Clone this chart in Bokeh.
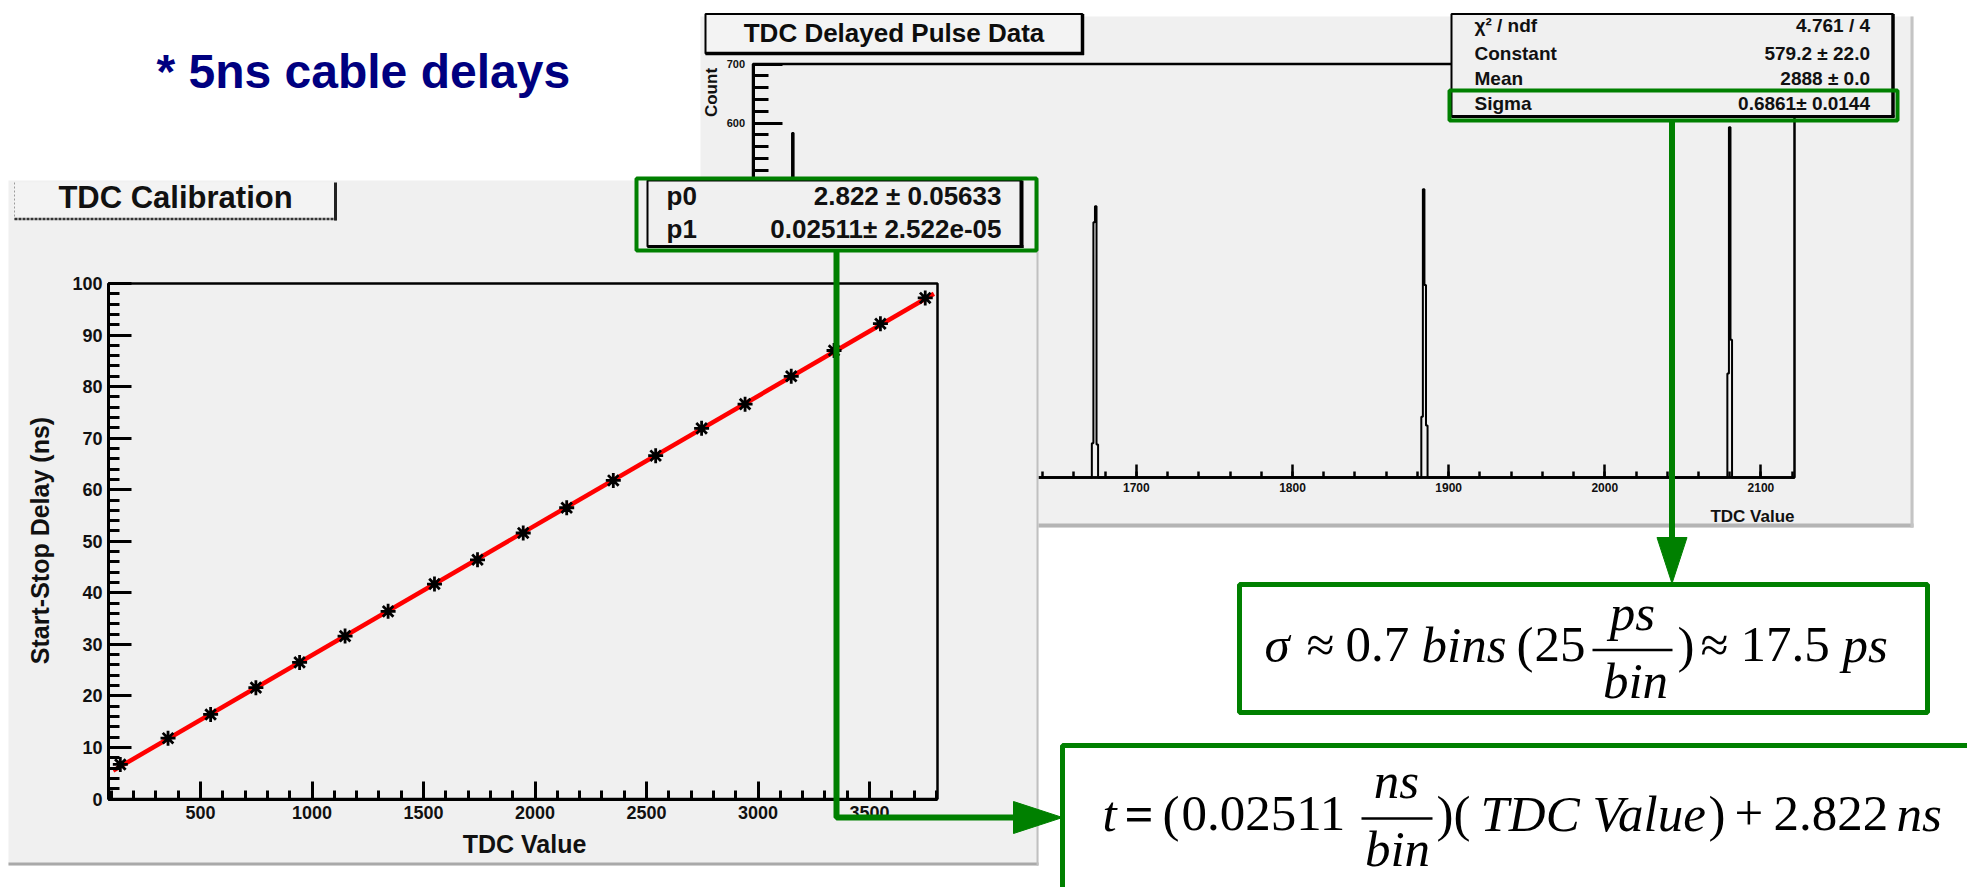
import numpy as np
from bokeh.plotting import figure
from bokeh.models import Range1d, LinearAxis, FixedTicker, ColumnDataSource
from bokeh.core.properties import value
from bokeh.embed import file_html
from bokeh.resources import INLINE

W, H = 1967, 887

# ---------------- data ----------------
# TDC calibration graph (5 ns cable delays)
cal_tdc = [140, 354, 545, 748, 944, 1148, 1341, 1549, 1742, 1947,
           2142, 2351, 2541, 2747, 2942, 3149, 3341, 3549, 3750]
cal_delay = [6.7, 11.8, 16.4, 21.6, 26.5, 31.6, 36.4, 41.7, 46.4, 51.6,
             56.5, 61.8, 66.6, 71.9, 76.6, 82.0, 87.0, 92.2, 97.2]
fit_tdc = [108, 3789]
fit_delay = [5.5, 98.0]
cal_x_span = (87.0, 3805.0)
cal_y_span = (0.0, 100.0)
cal_x_ticks = [500, 1000, 1500, 2000, 2500, 3000, 3500]
cal_x_minor = list(range(100, 3801, 100))
cal_y_ticks = list(range(0, 101, 10))
cal_y_minor = list(range(0, 101, 2))
cal_fit_pars = [("p0", "2.822 ± 0.05633"), ("p1", "0.02511± 2.522e-05")]

# TDC delayed pulse histogram (non-empty bins)
hist_bins = [1479, 1480, 1481,
             1672, 1673, 1674, 1675,
             1883, 1884, 1885, 1886,
             2079, 2080, 2081]
hist_counts = [190, 583, 230,
               58, 432, 459, 56,
               103, 488, 326, 88,
               176, 593, 233]
hist_x_span = (1454.5, 2121.5)
hist_y_span = (0.0, 700.0)
hist_x_ticks = [1500, 1600, 1700, 1800, 1900, 2000, 2100]
hist_x_minor = list(range(1460, 2121, 20))
hist_y_ticks = list(range(0, 701, 100))
hist_y_minor = list(range(0, 701, 20))
hist_stats = [("χ² / ndf", "4.761 / 4"), ("Constant", "579.2 ± 22.0"),
              ("Mean", "2888 ± 0.0"), ("Sigma", "0.6861± 0.0144")]

# ---------------- layout (pixel boxes: left, top, right, bottom) ----------------
CAL_PANEL = (8, 180, 1038, 865)
CAL_FRAME = (108, 283, 937, 798.5)
HIST_PANEL = (700, 16, 1913, 527)
HIST_FRAME = (752.5, 63.5, 1794, 477)
GREEN = "#008000"
PANEL = "#f0f0f0"
SANS = "Liberation Sans"
SERIF = "Liberation Serif"
BASE_K = 0.39   # baseline correction of the text glyph, in em


def x_range_for(p0, p1, v0, v1):
    k = (v1 - v0) / (p1 - p0)
    return Range1d(start=v0 - p0 * k, end=v0 + (W - p0) * k)


def y_range_for(s0, s1, v0, v1):
    q0, q1 = H - s0, H - s1
    k = (v1 - v0) / (q1 - q0)
    return Range1d(start=v0 - q0 * k, end=v0 + (H - q0) * k)


p = figure(width=W, height=H, x_range=Range1d(0, W), y_range=Range1d(H, 0),
           x_axis_type=None, y_axis_type=None, tools="", toolbar_location=None,
           output_backend="svg", min_border=0, outline_line_color=None,
           background_fill_color="white", border_fill_color="white")

p.extra_x_ranges = {
    "cx": x_range_for(CAL_FRAME[0], CAL_FRAME[2], *cal_x_span),
    "hx": x_range_for(HIST_FRAME[0], HIST_FRAME[2], *hist_x_span),
}
p.extra_y_ranges = {
    "cy": y_range_for(CAL_FRAME[3], CAL_FRAME[1], *cal_y_span),
    "hy": y_range_for(HIST_FRAME[3], HIST_FRAME[1], *hist_y_span),
}


def box(l, t, r, b, fill=None, line=None, lw=1.0, level="glyph"):
    p.quad(left=[l], right=[r], top=[t], bottom=[b], fill_color=fill,
           line_color=line, line_width=lw, level=level)


def seg(xs, ys, color="black", lw=1.0, level="glyph", dash="solid"):
    p.line(x=xs, y=ys, line_color=color, line_width=lw, level=level,
           line_dash=dash)


def put(x, y, t, size, font=SANS, style="bold", align="left",
        color="#111111", angle=0.0, level="glyph"):
    off = BASE_K * size
    if angle:
        x = x - off
    else:
        y = y - off
    src = ColumnDataSource(dict(x=[x], y=[y], text=[t]))
    p.text(x="x", y="y", text="text", source=src, text_font=value(font),
           text_font_size=value(f"{size}px"), text_font_style=value(style),
           text_align=value(align), text_baseline=value("alphabetic"),
           text_color=color, angle=angle, level=level)


def axis(xr, yr, loc, bounds, ticks, minor, tin, min_in, lw, size,
         standoff, level, side):
    ax = LinearAxis(x_range_name=xr, y_range_name=yr, fixed_location=loc,
                    bounds=bounds,
                    ticker=FixedTicker(ticks=ticks, minor_ticks=minor),
                    major_tick_in=tin, major_tick_out=0,
                    minor_tick_in=min_in, minor_tick_out=0,
                    axis_line_width=lw, major_tick_line_width=lw,
                    minor_tick_line_width=lw, axis_line_color="black",
                    major_tick_line_color="black", minor_tick_line_color="black",
                    major_label_text_font=SANS,
                    major_label_text_font_style="bold",
                    major_label_text_font_size=f"{size}px",
                    major_label_text_color="#111111",
                    major_label_standoff=standoff, level=level)
    p.add_layout(ax, side)


# =============== histogram panel (behind) ===============
L = "image"
box(*HIST_PANEL, fill=PANEL, level=L)
seg([HIST_PANEL[0], HIST_PANEL[2]], [HIST_PANEL[3] - 2, HIST_PANEL[3] - 2], "#b4b4b4", 4, L)
seg([HIST_PANEL[2] - 1.5, HIST_PANEL[2] - 1.5], [HIST_PANEL[1], HIST_PANEL[3]], "#c4c4c4", 3, L)

U = "underlay"
p.quad(left=[hist_x_span[0]], right=[hist_x_span[1]], bottom=[hist_y_span[0]],
       top=[hist_y_span[1]], fill_color=None, line_color="black", line_width=2.5,
       x_range_name="hx", y_range_name="hy", level=U)

edges = np.arange(hist_x_span[0], hist_x_span[1] + 0.5, 1.0)
counts = np.zeros(len(edges))
for b, c in zip(hist_bins, hist_counts):
    counts[int(round(b - hist_x_span[0] - 0.5))] = c
p.step(x=edges, y=counts, mode="after", line_color="black", line_width=2,
       x_range_name="hx", y_range_name="hy", level=U)

# title box
box(705, 13.5, 1082, 53, fill="#f3f3f3", line="black", lw=2, level=U)
seg([1082, 1082], [13.5, 54.5], "black", 3.5, U)
seg([705, 1083.5], [53, 53], "black", 3.5, U)
put(893.5, 43, "TDC Delayed Pulse Data", 26, align="center",
    color="#0d0d0d", level=U)

# stats box
box(1451, 13.5, 1892.5, 116, fill=PANEL, line="black", lw=2, level=U)
seg([1892.5, 1892.5], [13.5, 117], "black", 3.5, U)
seg([1451, 1894], [116, 116], "black", 3, U)
stat_base = [32.5, 60, 85.5, 110.5]
for (lab, val), yb in zip(hist_stats, stat_base):
    put(1474, yb, lab, 19, level=U)
    put(1869.5, yb, val, 19, align="right", level=U)

put(1794, 523, "TDC Value", 17, align="right", level=U)
put(718, 92, "Count", 17, align="center", angle=np.pi / 2, level=U)

axis("hx", "hy", hist_x_span[0], hist_y_span, hist_y_ticks, hist_y_minor,
     29, 15, 3, 11, 8, U, "left")
axis("hx", "hy", hist_y_span[0], hist_x_span, hist_x_ticks, hist_x_minor,
     13, 6, 2.5, 12, 5, U, "below")

# =============== calibration panel (front) ===============
G = "glyph"
box(*CAL_PANEL, fill=PANEL, level=G)
seg([CAL_PANEL[0], CAL_PANEL[2]], [CAL_PANEL[3] - 1.5, CAL_PANEL[3] - 1.5], "#a9a9a9", 3, G)
seg([CAL_PANEL[2] - 1, CAL_PANEL[2] - 1], [CAL_PANEL[1], CAL_PANEL[3]], "#c0c0c0", 2, G)

# title box
box(13, 182, 335, 219, fill="#f3f3f3", level=G)
seg([14, 14], [182, 219], "#9a9a9a", 1, G, dash="2 2")
seg([14, 336], [218.5, 218.5], "#333333", 2.5, G, dash="3 1")
seg([335, 335], [182, 220], "#222222", 3, G)
put(175, 209.5, "TDC Calibration", 31, align="center", level=G)

p.quad(left=[cal_x_span[0]], right=[cal_x_span[1]], bottom=[cal_y_span[0]],
       top=[cal_y_span[1]], fill_color=None, line_color="black", line_width=2.5,
       x_range_name="cx", y_range_name="cy", level=G)

p.line(x=fit_tdc, y=fit_delay, line_color="#ff0000", line_width=4.5,
       x_range_name="cx", y_range_name="cy", level=G)
p.scatter(x=cal_tdc, y=cal_delay, marker="asterisk", size=15, line_color="black",
          line_width=2.8, x_range_name="cx", y_range_name="cy", level=G)

# fit stats box
box(647, 180, 1021, 246, fill=PANEL, line="black", lw=2, level=G)
seg([1021, 1021], [180, 247.5], "black", 4, G)
seg([647, 1023], [246, 246], "black", 3, G)
for (lab, val), yb in zip(cal_fit_pars, [206, 238.5]):
    put(666, yb, lab, 26, level=G)
    put(1001, yb, val, 26, align="right", level=G)

put(524, 853, "TDC Value", 25, align="center", level=G)
put(49, 540, "Start-Stop Delay (ns)", 25, align="center",
    angle=np.pi / 2, level=G)

axis("cx", "cy", cal_x_span[0], cal_y_span, cal_y_ticks, cal_y_minor,
     23, 11, 3, 18, 6, "guide", "left")
axis("cx", "cy", cal_y_span[0], cal_x_span, cal_x_ticks, cal_x_minor,
     18, 9, 3, 18, 7, "guide", "below")

# =============== slide annotations ===============
A = "annotation"
put(156, 89.5, "* 5ns cable delays", 48, color="#000080", level=A)

# green highlight boxes
box(636, 178, 1036, 250, line=GREEN, lw=4, level=A)
box(1449, 90, 1897, 120, line=GREEN, lw=4, level=A)

# arrows
seg([836, 836, 1016], [250, 817, 817], GREEN, 6, A)
p.patch(x=[1013, 1013, 1062], y=[801, 833, 817], fill_color=GREEN,
        line_color=GREEN, level=A)
seg([1671.5, 1671.5], [120, 539], GREEN, 6, A)
p.patch(x=[1656.5, 1686.5, 1671.5], y=[537, 537, 583], fill_color=GREEN,
        line_color=GREEN, level=A)

# formula boxes
box(1239, 584, 1927, 712, fill="white", line=GREEN, lw=5, level=A)
box(1062, 745, 2000, 920, fill="white", line=GREEN, lw=5, level=A)

FS = 51
I, N = "italic", "normal"
upper = [(1264, "σ", I), (1306, "≈", N), (1345, "0.7", N), (1421, "bins", I),
         (1516, "(", N), (1534, "25", N), (1677, ")", N), (1700, "≈", N),
         (1740, "17.5", N), (1842, "ps", I)]
for x, t, st in upper:
    put(x, 664, t, FS, font=SERIF, style=st, color="black", level=A)
seg([1592, 1672], [649.5, 649.5], "black", 2.5, A)
put(1632, 632, "ps", FS, font=SERIF, style=I, align="center", color="black", level=A)
put(1635, 700, "bin", FS, font=SERIF, style=I, align="center", color="black", level=A)

lower = [(1102, "t", I), (1124, "=", "bold"), (1162, "(", N), (1181, "0.02511", N),
         (1436, ")(", N), (1480, "TDC Value", I), (1708, ")", N), (1734, "+", N),
         (1773, "2.822", N), (1896, "ns", I)]
for x, t, st in lower:
    put(x, 833, t, FS, font=SERIF, style=st, color="black", level=A)
seg([1361, 1432], [818, 818], "black", 2.5, A)
put(1396, 800, "ns", FS, font=SERIF, style=I, align="center", color="black", level=A)
put(1397, 868, "bin", FS, font=SERIF, style=I, align="center", color="black", level=A)

open("out.html", "w").write(file_html(p, INLINE))
